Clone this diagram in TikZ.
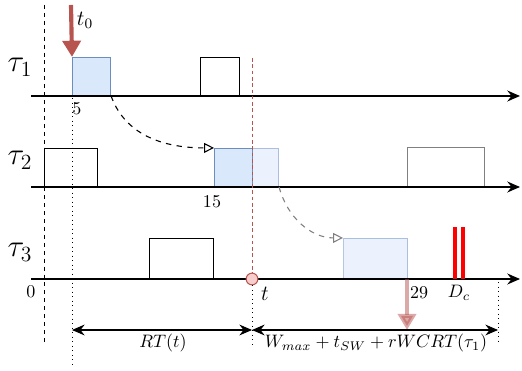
\documentclass[tikz,border=0pt]{standalone}
\usepackage{amsmath}
\usetikzlibrary{arrows.meta}
\definecolor{blueFill}{HTML}{DAE8FC}
\definecolor{blueDraw}{HTML}{6C8EBF}
\definecolor{redDraw}{HTML}{B85450}
\definecolor{redFill}{HTML}{F8CECC}
\def\px{0.555}
\def\yA{96}
\def\yB{187}
\def\yC{279}
\begin{document}
\begin{tikzpicture}[
    x=\px pt, y=-\px pt,
    >={Stealth[length=7pt,width=6pt]},
    axis/.style={line width=1.4pt, ->},
    job/.style 2 args={draw, line width=0.6pt, anchor=south west, inner sep=0pt,
        minimum width=#1*\px pt, minimum height=#2*\px pt},
    busy/.style={fill=blueFill, draw=blueDraw},
    late/.style={fill=blueFill, draw=blueDraw, fill opacity=0.55, draw opacity=0.5},
    release/.style={line width=2.3pt, redDraw, -{Triangle[length=9pt,width=10pt]}},
    hop/.style={dashed, line width=0.6pt, -{Triangle[open,length=5.5pt,width=5.5pt]}},
    lbl/.style={inner sep=1pt}
]
\useasboundingbox (0,0) rectangle (522,371);

% time lines
\coordinate (s1) at (31,\yA);  \coordinate (e1) at (520,\yA);
\coordinate (s2) at (31,\yB);  \coordinate (e2) at (520,\yB);
\coordinate (s3) at (31,\yC);  \coordinate (e3) at (520,\yC);
\node[lbl] (tau1) at (20,67) {\LARGE $\tau_1$};
\node[lbl] (tau2) at (20,160) {\LARGE $\tau_2$};
\node[lbl] (tau3) at (20,252) {\LARGE $\tau_3$};

% jobs
\node[job={38}{38}, busy] (a1) at (72,\yA) {};
\node[job={39}{38}] (a2) at (200,\yA) {};
\node[job={53}{38}] (b1) at (44,\yB) {};
\node[job={38}{38}, busy] (b2) at (214,\yB) {};
\node[job={26}{38}, late] (b3) at (252,\yB) {};
\node[job={77}{39}, draw=gray] (b4) at (407,\yB) {};
\node[job={64}{40}] (c1) at (149,\yC) {};
\node[job={64}{40}, late] (c2) at (343,\yC) {};

\draw[axis] (s1) -- (e1);
\draw[axis] (s2) -- (e2);
\draw[axis] (s3) -- (e3);

% markers
\coordinate (z0) at (44,5);    \coordinate (z1) at (44,342);
\coordinate (r0) at (72,98);   \coordinate (r1) at (72,368);
\coordinate (q0) at (252,58);
\coordinate (q1) at (252,345);
\coordinate (w0) at (498,282); \coordinate (w1) at (498,345);
\draw[dash pattern=on 2.2pt off 2.2pt, line width=0.55pt] (z0) -- (z1);
\draw[dotted, line width=0.5pt] (r0) -- (r1);
\node[circle, draw=redDraw, fill=redFill, line width=0.6pt, minimum size=6.5pt, inner sep=0pt] (now) at (252,\yC) {};
\draw[dash pattern=on 2pt off 1.5pt, redDraw, line width=0.5pt] (q0) -- (now);
\draw[dotted, line width=0.5pt] (now) -- (q1);
\draw[dotted, line width=0.5pt] (w0) -- (w1);

\coordinate (t0) at (71,5);
\draw[release] (t0) -- (a1.north west);
\coordinate (f0) at (407,\yC); \coordinate (f1) at (407,330);
\draw[release, opacity=0.5] (f0) -- (f1);

\draw[hop] (a1.south east) to[out=-70, in=180] (b2.north west);
\draw[hop, gray] (b3.south east) to[out=-75, in=180] (c2.north west);

% deadline
\coordinate (d1) at (455,227); \coordinate (d2) at (463,227);
\draw[red, line width=1.7pt] (d1) -- ++(0,52);
\draw[red, line width=1.7pt] (d2) -- ++(0,52);

% intervals
\coordinate (m0) at (72,330); \coordinate (m1) at (252,330); \coordinate (m2) at (498,330);
\draw[<->, line width=0.6pt] (m0) -- (m1);
\draw[<->, line width=0.6pt] (m1) -- (m2);
\node[lbl] (rt) at (163,343) {$RT(t)$};
\node[lbl] (bound) at (376,343) {$W_{max}+t_{SW}+rWCRT(\tau_1)$};

% labels
\node[lbl] (lt0) at (85,20) {\large $t_0$};
\node[lbl] (n5) at (77,109) {5};
\node[lbl] (n15) at (212,202) {15};
\node[lbl] (n0) at (31,292) {0};
\node[lbl] (nt) at (265,294) {\large $t$};
\node[lbl] (n29) at (419,293) {29};
\node[lbl] (ndc) at (459,293) {$D_c$};
\end{tikzpicture}
\end{document}
